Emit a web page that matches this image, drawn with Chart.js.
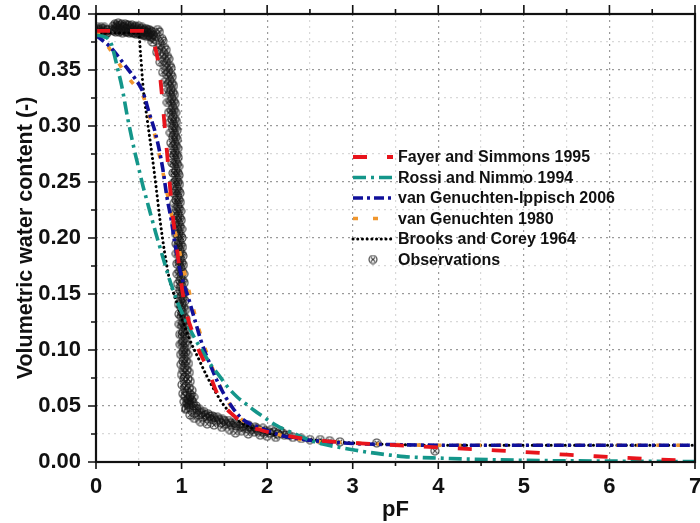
<!DOCTYPE html>
<html><head><meta charset="utf-8">
<script src="https://cdn.jsdelivr.net/npm/chart.js@4/dist/chart.umd.min.js"></script>
<style>html,body{margin:0;padding:0;background:#fff;} canvas{display:block;}</style>
</head><body>
<canvas id="c" width="700" height="523" style="width:700px;height:523px"></canvas>
<script>
// ---------------- data ----------------
const seriesNames = ['Fayer and Simmons 1995', 'Rossi and Nimmo 1994', 'van Genuchten-Ippisch 2006', 'van Genuchten 1980', 'Brooks and Corey 1964', 'Observations'];
const xTitle = 'pF';
const yTitle = 'Volumetric water content (-)';

const fayerPF    = [0, 0.3, 0.55, 0.62, 0.67, 0.71, 0.74, 0.77, 0.80, 0.83, 0.86, 0.89, 0.93, 0.97, 1.01, 1.05, 1.10, 1.15, 1.20, 1.25, 1.30, 1.35, 1.40, 1.50, 1.60, 1.70, 1.80, 1.90, 2.00, 2.20, 2.50, 3.00, 3.50, 4.00, 4.50, 5.00, 5.50, 6.00, 6.50, 7.00];
const fayerTheta = [.385, .385, .385, .382, .375, .364, .350, .328, .302, .276, .250, .225, .200, .176, .152, .135, .122, .112, .100, .092, .084, .074, .064, .050, .042, .036, .031, .029, .027, .024, .020, .017, .015, .013, .011, .009, .0065, .0045, .0025, .0008];

const rossiPF    = [0, 0.08, 0.14, 0.18, 0.21, 0.25, 0.30, 0.37, 0.45, 0.50, 0.55, 0.60, 0.65, 0.70, 0.75, 0.80, 0.85, 0.90, 0.95, 1.05, 1.15, 1.25, 1.35, 1.45, 1.55, 1.65, 1.75, 1.85, 1.98, 2.10, 2.20, 2.33, 2.48, 2.65, 2.85, 3.00, 3.20, 3.40, 3.60, 3.80, 4.00, 4.40, 5.00, 6.00, 7.00];
const rossiTheta = [.381, .380, .378, .373, .365, .352, .336, .307, .278, .262, .246, .232, .218, .204, .191, .178, .165, .154, .143, .126, .111, .098, .086, .076, .066, .058, .052, .046, .039, .033, .029, .025, .020, .016, .013, .011, .0085, .0065, .0048, .004, .0035, .0025, .0015, .0008, .0004];

const ippPF      = [0, 0.05, 0.10, 0.16, 0.25, 0.35, 0.45, 0.55, 0.62, 0.70, 0.78, 0.83, 0.88, 0.92, 0.97, 1.02, 1.07, 1.12, 1.17, 1.22, 1.28, 1.34, 1.40, 1.50, 1.60, 1.70, 1.80, 1.90, 2.00, 2.20, 2.44, 2.70, 3.00, 3.50, 4.00, 5.00, 6.00, 7.00];
const ippTheta   = [.381, .378, .375, .371, .363, .353, .343, .330, .312, .292, .262, .236, .216, .196, .175, .160, .149, .136, .123, .110, .097, .086, .075, .060, .048, .039, .034, .031, .028, .023, .020, .018, .0165, .0155, .015, .015, .015, .015];

const vgPF       = [0, 0.05, 0.10, 0.15, 0.20, 0.30, 0.40, 0.50, 0.56, 0.62, 0.70, 0.80, 0.90, 1.00, 1.08, 1.15, 1.25, 1.38, 1.50, 1.60, 1.70, 1.80, 2.00, 2.20, 2.50, 3.00, 3.50, 4.00, 5.00, 6.00, 7.00];
const vgTheta    = [.385, .381, .375, .370, .364, .352, .341, .332, .325, .310, .288, .252, .214, .180, .155, .133, .107, .080, .060, .047, .038, .033, .028, .023, .019, .017, .0155, .015, .015, .015, .015];

const bcPF       = [0, 0.25, 0.50, 0.52, 0.55, 0.60, 0.65, 0.70, 0.75, 0.80, 0.85, 0.90, 0.95, 1.00, 1.08, 1.20, 1.30, 1.40, 1.50, 1.60, 1.70, 1.80, 2.00, 2.20, 2.50, 3.00, 4.00, 5.00, 6.00, 7.00];
const bcTheta    = [.383, .383, .383, .365, .335, .305, .277, .247, .215, .188, .166, .152, .141, .129, .112, .092, .076, .062, .050, .042, .035, .031, .026, .023, .020, .017, .015, .015, .015, .015];

const obsPF = [
  // plateau, low suction
  0.00, 0.02, 0.04, 0.06, 0.08, 0.10, 0.12, 0.14,
  0.01, 0.03, 0.05, 0.07, 0.09, 0.11, 0.13,
  0.20, 0.22, 0.24, 0.26, 0.28, 0.30, 0.32, 0.34, 0.36, 0.38, 0.40, 0.42, 0.44, 0.46, 0.48, 0.50, 0.52, 0.54, 0.56, 0.58, 0.60, 0.62, 0.64, 0.66,
  0.21, 0.23, 0.25, 0.27, 0.29, 0.31, 0.33, 0.35, 0.37, 0.39, 0.41, 0.43, 0.45, 0.47, 0.49, 0.51, 0.53, 0.55, 0.57, 0.59, 0.61, 0.63, 0.65,
  0.19, 0.23, 0.27, 0.31, 0.35, 0.39, 0.43, 0.47, 0.51, 0.55, 0.59, 0.63, 0.67,
  // steep part, centre track
  0.70, 0.75, 0.79, 0.82, 0.845, 0.86, 0.875, 0.885, 0.895, 0.90, 0.91, 0.915, 0.92, 0.925, 0.93, 0.935, 0.94, 0.945, 0.95, 0.955, 0.96, 0.965,
  0.97, 0.975, 0.98, 0.985, 0.99, 0.993, 0.997, 1.00, 1.005, 1.01, 1.013, 1.017, 1.02, 1.025, 1.03, 1.035, 1.04, 1.05, 1.06, 1.075, 1.09,
  // steep part, left track
  0.66, 0.71, 0.75, 0.78, 0.80, 0.82, 0.835, 0.85, 0.86, 0.87, 0.875, 0.885, 0.89, 0.90, 0.905, 0.91, 0.915, 0.92, 0.925, 0.93,
  0.935, 0.94, 0.945, 0.95, 0.955, 0.96, 0.965, 0.97, 0.975, 0.98, 0.985, 0.99, 0.995, 1.00, 1.005, 1.015, 1.03, 1.05,
  // steep part, left-centre track
  0.68, 0.73, 0.77, 0.80, 0.825, 0.845, 0.86, 0.87, 0.88, 0.888, 0.895, 0.90, 0.905, 0.91, 0.915, 0.92, 0.925, 0.93, 0.935, 0.94, 0.945,
  0.95, 0.955, 0.96, 0.965, 0.97, 0.975, 0.98, 0.985, 0.99, 0.993, 0.997, 1.00, 1.005, 1.01, 1.013, 1.017, 1.022, 1.028, 1.035, 1.045, 1.06,
  // steep part, centre-right track
  0.72, 0.77, 0.80, 0.835, 0.86, 0.875, 0.89, 0.90, 0.91, 0.915, 0.925, 0.93, 0.935, 0.94, 0.945, 0.95, 0.955, 0.96, 0.965, 0.97, 0.975, 0.98,
  0.985, 0.99, 0.995, 1.00, 1.005, 1.01, 1.013, 1.017, 1.02, 1.025, 1.03, 1.035, 1.04, 1.045, 1.05, 1.055, 1.065, 1.075, 1.09, 1.105, 1.12,
  // steep part, right track
  0.74, 0.78, 0.82, 0.85, 0.875, 0.89, 0.905, 0.915, 0.925, 0.93, 0.94, 0.945, 0.95, 0.955, 0.96, 0.965, 0.97, 0.975, 0.98, 0.985, 0.99,
  0.995, 1.00, 1.005, 1.01, 1.015, 1.02, 1.025, 1.03, 1.035, 1.04, 1.045, 1.05, 1.055, 1.06, 1.065, 1.07, 1.08, 1.09, 1.10, 1.12, 1.14,
  // tail, upper track
  1.10, 1.13, 1.17, 1.21, 1.26, 1.31, 1.36, 1.42, 1.48, 1.55, 1.62, 1.70, 1.78, 1.86, 1.95, 2.05, 2.15,
  // tail, upper-middle track
  1.09, 1.14, 1.18, 1.23, 1.28, 1.33, 1.38, 1.44, 1.50, 1.57, 1.64, 1.72, 1.80, 1.88, 1.98, 2.08, 2.18,
  // tail, middle track
  1.08, 1.12, 1.16, 1.20, 1.25, 1.30, 1.35, 1.40, 1.46, 1.52, 1.58, 1.64, 1.70, 1.76, 1.82, 1.89, 1.96, 2.04, 2.12, 2.20,
  // tail, lower scatter
  1.05, 1.10, 1.15, 1.22, 1.30, 1.38, 1.47, 1.56, 1.63, 1.70, 1.78, 1.85, 1.92, 2.00, 2.10,
  // dry end
  2.25, 2.30, 2.40, 2.50, 2.62, 2.73, 2.85, 3.28, 3.96
];
const obsTheta = [
  .387, .388, .386, .388, .387, .388, .386, .386,
  .383, .384, .382, .384, .383, .382, .383,
  .389, .391, .390, .392, .390, .391, .389, .391, .390, .390, .389, .390, .388, .389, .388, .389, .387, .388, .386, .387, .386, .386, .385, .384,
  .385, .384, .386, .384, .385, .383, .385, .384, .384, .383, .384, .383, .383, .382, .383, .382, .382, .381, .381, .380, .381, .380, .379,
  .386, .388, .387, .388, .387, .387, .386, .386, .385, .385, .384, .383, .381,
  .380, .372, .364, .356, .348, .340, .332, .324, .316, .308, .300, .292, .284, .276, .268, .260, .252, .244, .236, .228, .220, .212,
  .204, .196, .188, .180, .172, .164, .156, .148, .140, .132, .124, .116, .108, .100, .092, .084, .076, .068, .062, .056, .051,
  .375, .366, .357, .348, .339, .330, .321, .312, .303, .294, .285, .276, .267, .258, .249, .240, .231, .222, .213, .204,
  .195, .186, .177, .168, .159, .150, .141, .132, .123, .114, .105, .096, .087, .078, .069, .061, .054, .048,
  .378, .370, .362, .354, .346, .338, .330, .322, .314, .306, .298, .290, .282, .274, .266, .258, .250, .242, .234, .226, .218,
  .210, .202, .194, .186, .178, .170, .162, .154, .146, .138, .130, .122, .114, .106, .098, .090, .082, .074, .066, .059, .053,
  .386, .378, .370, .362, .354, .346, .338, .330, .322, .314, .306, .298, .290, .282, .274, .266, .258, .250, .242, .234, .226, .218,
  .210, .202, .194, .186, .178, .170, .162, .154, .146, .138, .130, .122, .114, .106, .098, .090, .082, .074, .066, .060, .055,
  .384, .376, .368, .360, .352, .344, .336, .328, .320, .312, .304, .296, .288, .280, .272, .264, .256, .248, .240, .232, .224,
  .216, .208, .200, .192, .184, .176, .168, .160, .152, .144, .136, .128, .120, .112, .104, .096, .088, .080, .072, .064, .058,
  .058, .053, .050, .047, .045, .043, .041, .040, .038, .037, .035, .034, .033, .031, .030, .029, .028,
  .055, .050, .047, .044, .042, .041, .040, .038, .037, .035, .034, .032, .031, .030, .028, .027, .026,
  .052, .047, .044, .042, .040, .039, .038, .037, .035, .034, .033, .032, .031, .030, .029, .028, .027, .026, .025, .024,
  .047, .042, .039, .036, .034, .033, .031, .029, .026, .028, .025, .027, .024, .023, .022,
  .024, .022, .021, .020, .020, .019, .018, .017, .010
];

// ---------------- helpers ----------------
const zip = (xs, ys) => xs.map((x, i) => ({x, y: ys[i]}));
const FONT = "'Liberation Sans', Arial, sans-serif";

// observation marker: circle with a cross
const obsMark = document.createElement('canvas');
obsMark.width = 10; obsMark.height = 10;
(function () {
  const g = obsMark.getContext('2d');
  g.strokeStyle = 'rgba(20,20,20,0.85)';
  g.lineWidth = 1.1;
  g.beginPath(); g.arc(5, 5, 4, 0, Math.PI * 2); g.stroke();
  g.beginPath(); g.moveTo(2.7, 2.7); g.lineTo(7.3, 7.3); g.moveTo(7.3, 2.7); g.lineTo(2.7, 7.3); g.stroke();
})();

const isMajorX = v => Math.abs(v - Math.round(v)) < 1e-6;
const isMajorY = v => Math.round(v * 1000) % 50 === 0;

const lineDS = (label, xs, ys, color, dash, width, order, cap) => ({
  label, data: zip(xs, ys), showLine: true, borderColor: color, backgroundColor: color,
  borderWidth: width, borderDash: dash, borderCapStyle: cap || 'butt',
  pointRadius: 0, cubicInterpolationMode: 'monotone', fill: false, order
});

const datasets = [
  lineDS(seriesNames[0], fayerPF, fayerTheta, '#e8141c', [14, 20], 3.8, 1),
  lineDS(seriesNames[1], rossiPF, rossiTheta, '#14968a', [13, 5, 3, 5], 3.6, 2),
  lineDS(seriesNames[2], ippPF, ippTheta, '#10109a', [10, 4, 3, 4], 3.6, 3),
  lineDS(seriesNames[3], vgPF, vgTheta, '#f0962e', [5, 15], 3.6, 4),
  lineDS(seriesNames[4], bcPF, bcTheta, '#000000', [0.1, 4.6], 3.0, 5, 'round'),
  { label: seriesNames[5], data: zip(obsPF, obsTheta), showLine: false,
    pointStyle: obsMark, pointRadius: 4, borderColor: '#222', backgroundColor: '#222', order: 10 }
];

// frame, tick marks and in-plot legend
const decor = {
  id: 'decor',
  afterDraw(chart) {
    const {ctx, chartArea: a, scales: {x, y}} = chart;
    ctx.save();
    ctx.strokeStyle = '#111';
    ctx.lineWidth = 1.6;
    ctx.beginPath();
    x.ticks.forEach(t => {
      const px = x.getPixelForValue(t.value);
      const mj = isMajorX(t.value);
      ctx.moveTo(px, a.bottom); ctx.lineTo(px, a.bottom + (mj ? 7 : 4));
      ctx.moveTo(px, a.top); ctx.lineTo(px, a.top - (mj ? 9 : 5));
    });
    y.ticks.forEach(t => {
      const py = y.getPixelForValue(t.value);
      const mj = isMajorY(t.value);
      ctx.moveTo(a.left, py); ctx.lineTo(a.left - (mj ? 8 : 5), py);
    });
    ctx.stroke();
    ctx.lineWidth = 2.2;
    ctx.strokeRect(a.left, a.top, a.right - a.left, a.bottom - a.top);

    // legend
    const lx = a.left + 257, tx = lx + 45;
    const y0 = a.top + 143, dy = 20.5;
    ctx.font = 'bold 16px ' + FONT;
    ctx.textBaseline = 'middle';
    ctx.textAlign = 'left';
    chart.data.datasets.forEach((ds, i) => {
      const yy = y0 + i * dy;
      if (ds.showLine) {
        ctx.save();
        ctx.strokeStyle = ds.borderColor;
        ctx.lineWidth = ds.borderWidth;
        ctx.setLineDash(ds.borderDash);
        ctx.lineCap = ds.borderCapStyle;
        ctx.beginPath(); ctx.moveTo(lx, yy); ctx.lineTo(lx + 40, yy); ctx.stroke();
        ctx.restore();
      } else {
        ctx.drawImage(obsMark, lx + 20 - 5, yy - 5);
      }
      ctx.fillStyle = '#111';
      ctx.fillText(ds.label, tx, yy + 1);
    });
    ctx.restore();
  }
};

new Chart(document.getElementById('c'), {
  type: 'scatter',
  data: { datasets },
  plugins: [decor],
  options: {
    responsive: false, animation: false, devicePixelRatio: 1,
    layout: { padding: { top: 14, right: 1, left: 0, bottom: 0 } },
    plugins: { legend: { display: false }, tooltip: { enabled: false } },
    scales: {
      x: {
        type: 'linear', min: 0, max: 7,
        ticks: { stepSize: 0.5, autoSkip: false, maxRotation: 0, padding: 4, color: '#111',
          font: { family: FONT, size: 22, weight: 'bold' },
          callback: v => isMajorX(v) ? String(Math.round(v)) : '' },
        grid: { color: c => isMajorX(c.tick.value) ? '#9a9a9a' : '#d8d8d8', lineWidth: 1.2,
          tickLength: 8, tickColor: 'rgba(0,0,0,0)' },
        border: { display: false, dash: [2, 4] },
        title: { display: true, text: xTitle, color: '#111', padding: { top: 0, bottom: 0 },
          font: { family: FONT, size: 22, weight: 'bold' } },
        afterFit: s => { s.height = 61; s.paddingLeft = 0; s.paddingRight = 0; }
      },
      y: {
        type: 'linear', min: 0, max: 0.4,
        ticks: { stepSize: 0.025, autoSkip: false, padding: 7, color: '#111',
          font: { family: FONT, size: 22, weight: 'bold' },
          callback: v => isMajorY(v) ? v.toFixed(2) : '' },
        grid: { color: c => isMajorY(c.tick.value) ? '#9a9a9a' : '#d8d8d8', lineWidth: 1.2,
          tickLength: 8, tickColor: 'rgba(0,0,0,0)' },
        border: { display: false, dash: [2, 4] },
        title: { display: true, text: yTitle, color: '#111', padding: { top: 13, bottom: 0 },
          font: { family: FONT, size: 21.5, weight: 'bold' } },
        afterFit: s => { s.width = 96; s.paddingTop = 0; s.paddingBottom = 0; }
      }
    }
  }
});
</script></body></html>
